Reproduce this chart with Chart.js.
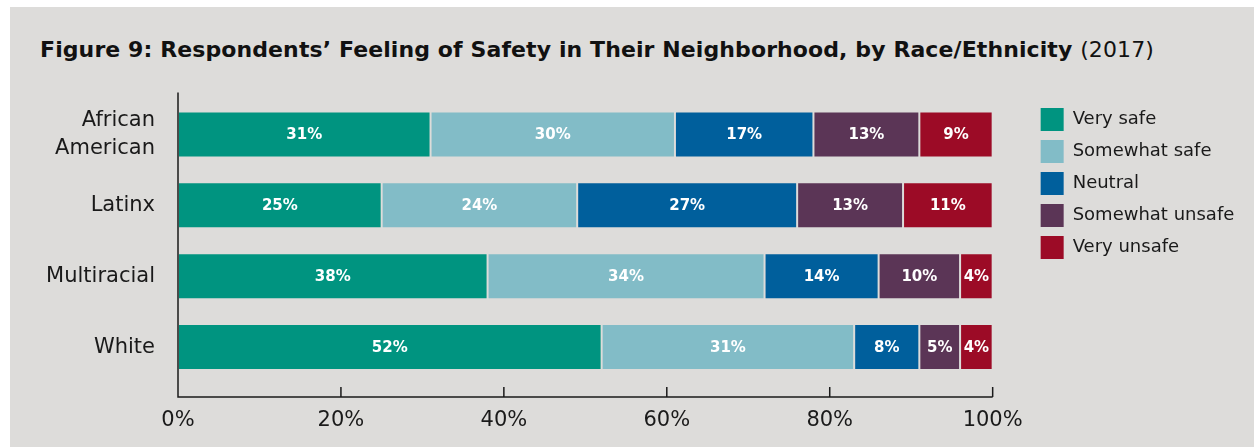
<!DOCTYPE html>
<html>
<head>
<meta charset="utf-8">
<script src="https://cdn.jsdelivr.net/npm/chart.js@4.4.1/dist/chart.umd.min.js"></script>
<style>
  html, body { margin: 0; padding: 0; background: #fff; }
  #wrap { position: relative; width: 1254px; height: 447px; overflow: hidden; }
  #panel { position: absolute; left: 10px; top: 7px; right: 0; bottom: 0; background: #dddcda; }
  #title { position: absolute; left: 40px; top: 37px; font-family: "DejaVu Sans", sans-serif; font-size: 22px; letter-spacing: 0.1px; font-weight: 700; color: #111; white-space: nowrap; }
  #title span { font-weight: 400; }
  canvas { position: absolute; left: 0; top: 0; }
</style>
</head>
<body>
<div id="wrap">
  <div id="panel"></div>
  <div id="title">Figure 9: Respondents’ Feeling of Safety in Their Neighborhood, by Race/Ethnicity <span>(2017)</span></div>
  <canvas id="safetyChart" width="1254" height="447"></canvas>
</div>
<script>
// Survey shares (%) by group
const groups = [['African', 'American'], 'Latinx', 'Multiracial', 'White'];
const seriesNames = ['Very safe', 'Somewhat safe', 'Neutral', 'Somewhat unsafe', 'Very unsafe'];
const verySafe = [31, 25, 38, 52];
const somewhatSafe = [30, 24, 34, 31];
const neutral = [17, 27, 14, 8];
const somewhatUnsafe = [13, 13, 10, 5];
const veryUnsafe = [9, 11, 4, 4];
const xTicks = [0, 20, 40, 60, 80, 100];

const colors = ['#009480', '#82bcc7', '#005f9c', '#5b3556', '#9c0b26'];
const fontFamily = '"DejaVu Sans", sans-serif';

const datasets = [verySafe, somewhatSafe, neutral, somewhatUnsafe, veryUnsafe].map((values, i) => ({
    label: seriesNames[i],
    data: values,
    backgroundColor: colors[i],
    borderColor: '#dddcda',
    borderWidth: 1,
    borderSkipped: false,
    categoryPercentage: 1,
    barPercentage: 0.65
}));

// White percentage labels centred in every segment
const segmentLabels = {
    id: 'segmentLabels',
    afterDatasetsDraw(chart) {
        const ctx = chart.ctx;
        ctx.save();
        ctx.fillStyle = '#ffffff';
        ctx.font = 'bold 15px ' + fontFamily;
        ctx.textAlign = 'center';
        ctx.textBaseline = 'middle';
        chart.data.datasets.forEach((ds, i) => {
            chart.getDatasetMeta(i).data.forEach((bar, j) => {
                const { x, y } = bar.getCenterPoint();
                ctx.fillText(ds.data[j] + '%', x, y + 1);
            });
        });
        ctx.restore();
    }
};

// Axis lines run a bit past the bars, tick marks point up into the plot
const axisFrame = {
    id: 'axisFrame',
    afterDraw(chart) {
        const { ctx, chartArea: a } = chart;
        const xScale = chart.scales.x;
        const base = a.bottom + 14.5;
        ctx.save();
        ctx.strokeStyle = '#1a1a1a';
        ctx.lineWidth = 1.5;
        ctx.beginPath();
        ctx.moveTo(a.left, a.top - 6.5);
        ctx.lineTo(a.left, base);
        ctx.lineTo(a.right, base);
        xScale.ticks.forEach(t => {
            const px = xScale.getPixelForValue(t.value);
            ctx.moveTo(px, base);
            ctx.lineTo(px, base - 10);
        });
        ctx.stroke();
        ctx.restore();
    }
};

new Chart(document.getElementById('safetyChart'), {
    type: 'bar',
    data: { labels: groups, datasets: datasets },
    options: {
        indexAxis: 'y',
        responsive: false,
        animation: false,
        devicePixelRatio: 1,
        layout: { padding: { top: 99, right: 16, bottom: 0, left: 0 } },
        plugins: {
            legend: {
                position: 'right',
                align: 'start',
                labels: {
                    boxWidth: 23,
                    boxHeight: 23,
                    padding: 9,
                    color: '#1a1a1a',
                    font: { family: fontFamily, size: 18 },
                    generateLabels: chart => Chart.defaults.plugins.legend.labels.generateLabels(chart)
                        .map(item => Object.assign(item, { lineWidth: 0 }))
                }
            },
            tooltip: { enabled: false }
        },
        scales: {
            x: {
                stacked: true,
                min: 0,
                max: 100,
                afterBuildTicks: scale => { scale.ticks = xTicks.map(v => ({ value: v })); },
                grid: { display: false, drawTicks: false },
                border: { display: false },
                ticks: {
                    padding: 25,
                    color: '#1a1a1a',
                    font: { family: fontFamily, size: 21 },
                    callback: value => value + '%'
                },
                afterFit: scale => { scale.height = 64.5; }
            },
            y: {
                stacked: true,
                grid: { display: false, drawTicks: false },
                border: { display: false },
                ticks: {
                    padding: 23,
                    color: '#1a1a1a',
                    font: { family: fontFamily, size: 21, lineHeight: 1.3 }
                },
                afterFit: scale => { scale.width = 178; }
            },
            // empty spacer between the plot and the legend
            gap: {
                type: 'linear',
                position: 'right',
                ticks: { display: false },
                grid: { display: false },
                border: { display: false },
                afterFit: scale => { scale.width = 39; }
            }
        }
    },
    plugins: [segmentLabels, axisFrame]
});
</script>
</body>
</html>
